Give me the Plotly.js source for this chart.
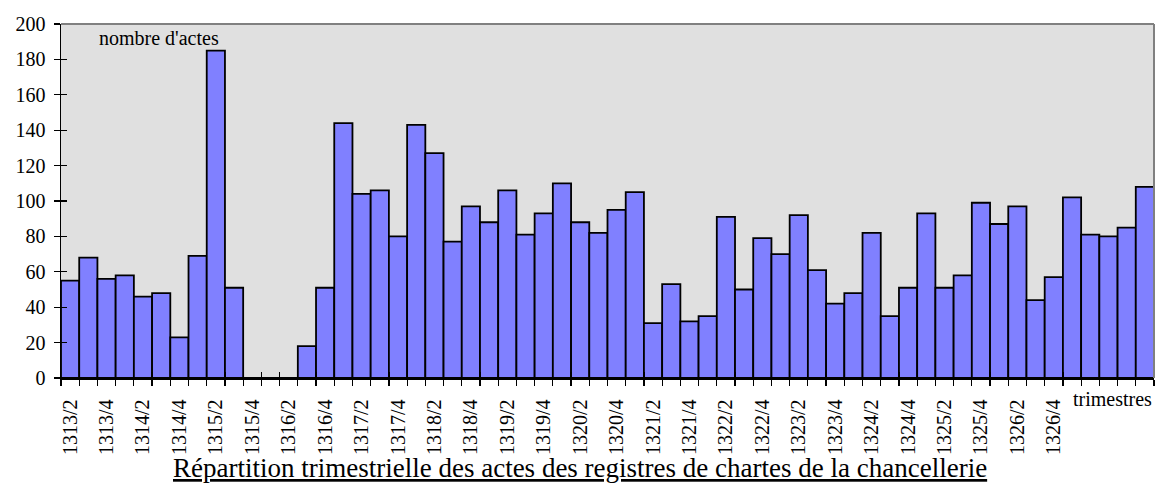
<!DOCTYPE html>
<html>
<head>
<meta charset="utf-8">
<script src="https://cdn.plot.ly/plotly-3.0.1.min.js"></script>
<style>
  html, body { margin: 0; padding: 0; background: #ffffff; }
  #chart { width: 1155px; height: 486px; }
</style>
</head>
<body>
<div id="chart"></div>
<script>
// Quarters (trimestres), 1313/2 .. 1328/1
const categories = [
  "1313/2","1313/3","1313/4",
  "1314/1","1314/2","1314/3","1314/4",
  "1315/1","1315/2","1315/3","1315/4",
  "1316/1","1316/2","1316/3","1316/4",
  "1317/1","1317/2","1317/3","1317/4",
  "1318/1","1318/2","1318/3","1318/4",
  "1319/1","1319/2","1319/3","1319/4",
  "1320/1","1320/2","1320/3","1320/4",
  "1321/1","1321/2","1321/3","1321/4",
  "1322/1","1322/2","1322/3","1322/4",
  "1323/1","1323/2","1323/3","1323/4",
  "1324/1","1324/2","1324/3","1324/4",
  "1325/1","1325/2","1325/3","1325/4",
  "1326/1","1326/2","1326/3","1326/4",
  "1327/1","1327/2","1327/3","1327/4",
  "1328/1"
];

// Number of acts per quarter
const actes = [
  55, 68, 56,
  58, 46, 48, 23,
  69, 185, 51, 0,
  0, 0, 18, 51,
  144, 104, 106, 80,
  143, 127, 77, 97,
  88, 106, 81, 93,
  110, 88, 82, 95,
  105, 31, 53, 32,
  35, 91, 50, 79,
  70, 92, 61, 42,
  48, 82, 35, 51,
  93, 51, 58, 99,
  87, 97, 44, 57,
  102, 81, 80, 85,
  108
];

// Labels shown under the axis
const shownLabels = [
  "1313/2","1313/4","1314/2","1314/4","1315/2","1315/4","1316/2","1316/4",
  "1317/2","1317/4","1318/2","1318/4","1319/2","1319/4","1320/2","1320/4",
  "1321/2","1321/4","1322/2","1322/4","1323/2","1323/4","1324/2","1324/4",
  "1325/2","1325/4","1326/2","1326/4"
];

const yTicks = [0, 20, 40, 60, 80, 100, 120, 140, 160, 180, 200];

const chartTitle = "Répartition trimestrielle des actes des registres de chartes de la chancellerie";
const yLabel = "nombre d'actes";
const xLabel = "trimestres";

const FONT = "Liberation Serif, Times New Roman, serif";
const tickText = categories.map(c => shownLabels.includes(c) ? c : "");

const traces = [
  {
    type: "bar",
    x: categories,
    y: actes,
    marker: { color: "#8080ff", line: { color: "#000000", width: 1.8 } },
    hoverinfo: "x+y",
    showlegend: false
  },
  {
    type: "bar",
    x: categories,
    y: actes,
    xaxis: "x2",
    yaxis: "y2",
    marker: { color: "rgba(0,0,0,0)", line: { width: 0 } },
    hoverinfo: "skip",
    showlegend: false
  }
];

const layout = {
  width: 1155,
  height: 486,
  margin: { l: 61, r: 1, t: 24, b: 108 },
  paper_bgcolor: "#ffffff",
  plot_bgcolor: "#e0e0e0",
  bargap: 0,
  font: { family: FONT, size: 20, color: "#000000" },
  xaxis: {
    type: "category",
    range: [-0.5, categories.length - 0.5],
    tickmode: "array",
    tickvals: categories,
    ticktext: tickText,
    tickson: "boundaries",
    ticks: "outside",
    ticklen: 6,
    tickwidth: 1.2,
    tickcolor: "#000000",
    tickangle: -90,
    ticklabelstandoff: 12,
    tickfont: { family: FONT, size: 20, color: "#000000" },
    showline: true,
    linecolor: "#000000",
    linewidth: 1.5,
    showgrid: false,
    zeroline: false,
    fixedrange: true
  },
  xaxis2: {
    type: "category",
    overlaying: "x",
    matches: "x",
    range: [-0.5, categories.length - 0.5],
    tickmode: "array",
    tickvals: categories,
    ticktext: tickText,
    tickson: "boundaries",
    ticks: "inside",
    ticklen: 6,
    tickwidth: 1.2,
    tickcolor: "#000000",
    showticklabels: false,
    showline: false,
    showgrid: false,
    zeroline: false,
    side: "bottom",
    anchor: "y2"
  },
  yaxis: {
    range: [0, 200],
    tickmode: "array",
    tickvals: yTicks,
    ticks: "outside",
    ticklen: 6,
    tickwidth: 1.2,
    tickcolor: "#000000",
    ticklabelstandoff: 4,
    tickfont: { family: FONT, size: 20, color: "#000000" },
    showline: true,
    linecolor: "#000000",
    linewidth: 1.5,
    showgrid: false,
    zeroline: false,
    fixedrange: true
  },
  yaxis2: {
    overlaying: "y",
    matches: "y",
    range: [0, 200],
    tickmode: "array",
    tickvals: yTicks,
    ticks: "inside",
    ticklen: 6,
    tickwidth: 1.2,
    tickcolor: "#000000",
    showticklabels: false,
    showline: false,
    showgrid: false,
    zeroline: false,
    side: "left",
    anchor: "x2"
  },
  shapes: [
    { type: "line", xref: "paper", yref: "paper", x0: 0, x1: 1, y0: 1, y1: 1,
      line: { color: "#808080", width: 2 } },
    { type: "line", xref: "paper", yref: "paper", x0: 1, x1: 1, y0: 0, y1: 1,
      line: { color: "#808080", width: 2 } }
  ],
  annotations: [
    { text: yLabel, xref: "paper", yref: "paper", x: 0.033, y: 0.96,
      xanchor: "left", yanchor: "middle", showarrow: false,
      font: { family: FONT, size: 20, color: "#000000" } },
    { text: xLabel, xref: "paper", yref: "paper", x: 1.0, y: -0.058,
      xanchor: "right", yanchor: "middle", showarrow: false,
      font: { family: FONT, size: 20, color: "#000000" } },
    { text: "<u>" + chartTitle + "</u>", xref: "paper", yref: "paper",
      x: 0.475, y: -0.255, xanchor: "center", yanchor: "middle", showarrow: false,
      font: { family: FONT, size: 27, color: "#000000" } }
  ]
};

Plotly.newPlot("chart", traces, layout, { displayModeBar: false, staticPlot: true });
</script>
</body>
</html>
